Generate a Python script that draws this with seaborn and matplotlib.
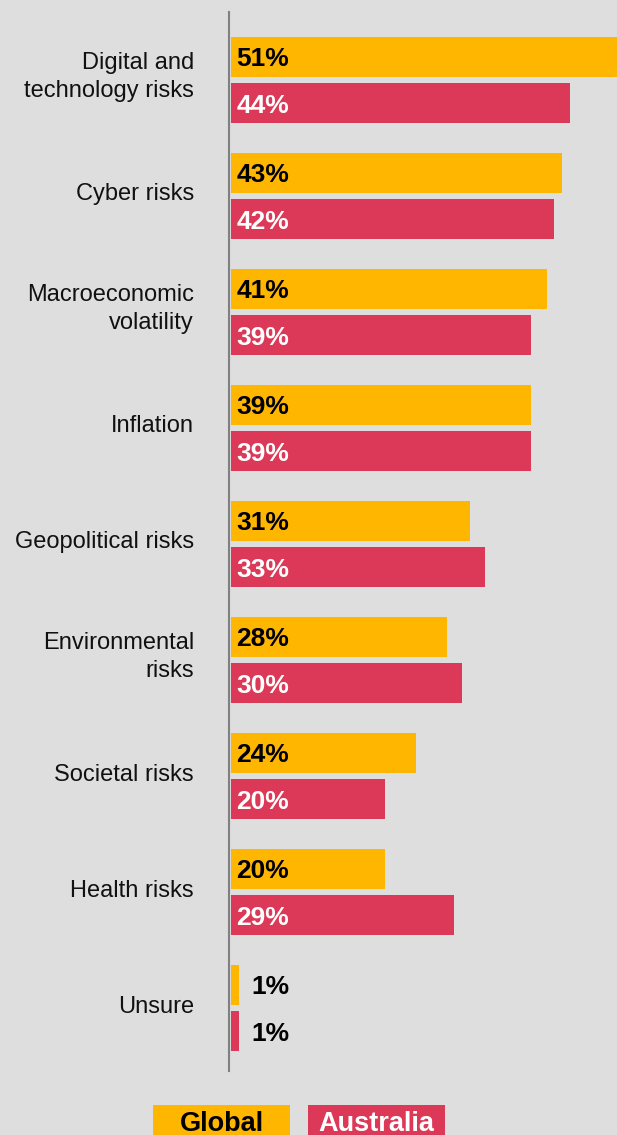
import matplotlib
matplotlib.use("Agg")
import matplotlib.pyplot as plt
from matplotlib.patches import Rectangle
from matplotlib.transforms import ScaledTranslation
import pandas as pd
import seaborn as sns

categories = [
    "Digital and\ntechnology risks",
    "Cyber risks",
    "Macroeconomic\nvolatility",
    "Inflation",
    "Geopolitical risks",
    "Environmental\nrisks",
    "Societal risks",
    "Health risks",
    "Unsure",
]
global_vals = [51, 43, 41, 39, 31, 28, 24, 20, 1]
australia_vals = [44, 42, 39, 39, 33, 30, 20, 29, 1]
regions = ["Global", "Australia"]

colors = {"Global": "#FFB600", "Australia": "#DB3957"}
text_on = {"Global": "#000000", "Australia": "#FFFFFF"}
BG = "#DEDEDE"

df = pd.DataFrame({
    "category": categories * 2,
    "value": global_vals + australia_vals,
    "region": [regions[0]] * len(categories) + [regions[1]] * len(categories),
})

sns.set_theme(style="white")
plt.rcParams["font.family"] = ["Liberation Sans", "DejaVu Sans"]

W, H, DPI = 617, 1135, 100
fig = plt.figure(figsize=(W / DPI, H / DPI), dpi=DPI, facecolor=BG)
ax = fig.add_axes([231 / W, 1 - 1071 / H, 1 - 231 / W, (1071 - 12) / H])
ax.set_facecolor(BG)

sns.barplot(
    data=df, y="category", x="value", hue="region", hue_order=regions,
    order=categories, orient="h", palette=colors, saturation=1,
    width=0.8, gap=0.1375, linewidth=0, legend=False, ax=ax,
)

ax.set_xlim(0, 50.13)
ax.set_ylim(8.543, -0.586)
ax.set_xlabel("")
ax.set_ylabel("")
ax.set_xticks([])

for side in ("top", "right", "bottom"):
    ax.spines[side].set_visible(False)
ax.spines["left"].set_color("#808080")
ax.spines["left"].set_linewidth(1.5)
ax.spines["left"].set_position(("outward", 1.2))
ax.tick_params(axis="y", length=0, pad=25.5, labelsize=17, labelcolor="#111111")
for lbl in ax.get_yticklabels():
    nlines = lbl.get_text().count("\n") + 1
    lbl.set_linespacing(1.3)
    # nudge labels up so they sit slightly above the pair of bars
    dy = (4 + 4 * (nlines - 1)) / DPI
    lbl.set_transform(lbl.get_transform() + ScaledTranslation(0, dy, fig.dpi_scale_trans))

# value labels: inside the bar at its base, or just past the end for tiny bars
for region, container in zip(regions, ax.containers):
    for bar in container:
        val = bar.get_width()
        yc = bar.get_y() + bar.get_height() / 2
        if val >= 5:
            ax.annotate(f"{val:.0f}%", (0, yc), xytext=(4.0, 0),
                        textcoords="offset points", ha="left", va="center_baseline",
                        fontsize=19, fontweight="bold", color=text_on[region])
        else:
            ax.annotate(f"{val:.0f}%", (val, yc), xytext=(9.0, 0),
                        textcoords="offset points", ha="left", va="center_baseline",
                        fontsize=19, fontweight="bold", color="#000000")

# legend chips along the bottom edge
for region, x0 in zip(regions, (153, 308)):
    fig.patches.append(Rectangle((x0 / W, 0), 137 / W, 1 - 1105 / H,
                                 transform=fig.transFigure, facecolor=colors[region],
                                 edgecolor="none"))
    fig.text((x0 + 68.5) / W, 1 - 1131 / H, region, ha="center", va="baseline",
             fontsize=19.5, fontweight="bold", color=text_on[region])

fig.savefig("out.png", dpi=DPI, facecolor=BG)
